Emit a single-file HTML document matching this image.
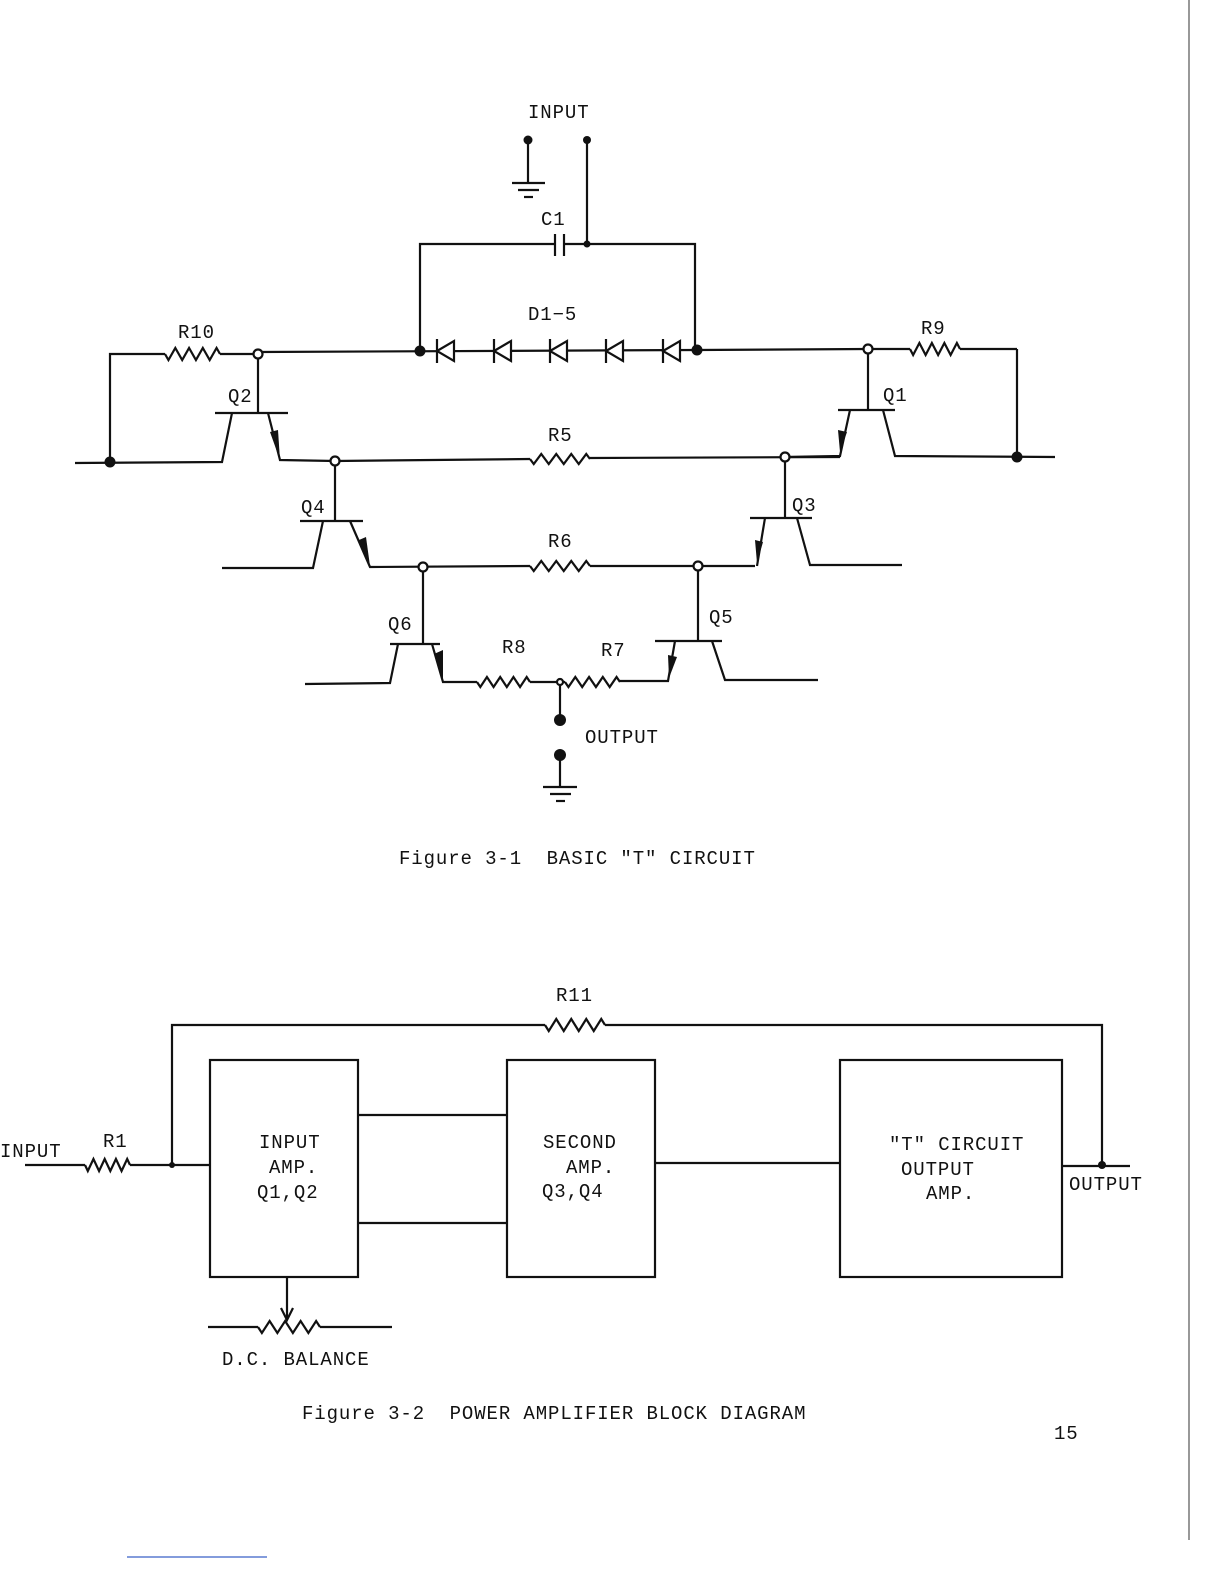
<!DOCTYPE html>
<html><head><meta charset="utf-8"><style>
html,body{margin:0;padding:0;background:#fff;}
svg{display:block;}
text{font-family:"Liberation Mono","DejaVu Sans Mono",monospace;font-size:19px;fill:#111;letter-spacing:0.9px;white-space:pre;}
</style></head><body>
<svg id="s" width="1224" height="1584" viewBox="0 0 1224 1584" xmlns="http://www.w3.org/2000/svg">
<g id="g" stroke="#111" stroke-width="2.2" fill="none">
<line x1="528" y1="140" x2="528" y2="182"/>
<line x1="512" y1="183" x2="545" y2="183"/><line x1="518" y1="190" x2="539" y2="190"/><line x1="524" y1="197" x2="533" y2="197"/>
<line x1="587" y1="140" x2="587" y2="244"/>
<polyline points="420,350 420,244 555,244"/><line x1="555" y1="234" x2="555" y2="256"/><line x1="564" y1="234" x2="564" y2="256"/>
<polyline points="564,244 695,244 695,350"/>
<line x1="258" y1="352" x2="697" y2="350"/>
<line x1="697" y1="350" x2="868" y2="349"/>
<polyline points="110,462 110,354 165,354"/><line x1="220" y1="354" x2="258" y2="354"/>
<line x1="258" y1="354" x2="258" y2="413"/>
<line x1="215" y1="413" x2="288" y2="413"/>
<polyline points="75,463 222,462 232,413"/>
<polyline points="268,413 280,460 335,461 530,459"/><line x1="590" y1="458" x2="840" y2="457"/>
<line x1="868" y1="349" x2="868" y2="410"/>
<line x1="838" y1="410" x2="895" y2="410"/>
<polyline points="850,410 840,456 785,457"/>
<polyline points="883,410 895,456 1055,457"/>
<line x1="960" y1="349" x2="1017" y2="349"/><line x1="1017" y1="349" x2="1017" y2="457"/>
<line x1="868" y1="349" x2="910" y2="349"/>
<line x1="335" y1="461" x2="335" y2="521"/>
<line x1="300" y1="521" x2="363" y2="521"/>
<polyline points="222,568 313,568 323,521"/>
<polyline points="350,521 370,567 530,566"/><line x1="590" y1="566" x2="755" y2="566"/>
<line x1="785" y1="457" x2="785" y2="518"/>
<line x1="750" y1="518" x2="812" y2="518"/>
<polyline points="765,518 757,566"/>
<polyline points="797,518 810,565 902,565"/>
<line x1="423" y1="567" x2="423" y2="644"/>
<line x1="390" y1="644" x2="440" y2="644"/>
<polyline points="305,684 390,683 398,644"/>
<polyline points="432,644 443,682 477,682"/>
<line x1="530" y1="682" x2="565" y2="682"/>
<polyline points="620,681 668,681 675,641"/>
<line x1="698" y1="566" x2="698" y2="641"/>
<line x1="655" y1="641" x2="722" y2="641"/>
<polyline points="712,641 725,680 818,680"/>
<line x1="560" y1="682" x2="560" y2="720"/>
<line x1="560" y1="755" x2="560" y2="786"/>
<line x1="543" y1="787" x2="577" y2="787"/><line x1="550" y1="794" x2="571" y2="794"/><line x1="556" y1="801" x2="565" y2="801"/>

<polyline points="172,1165 172,1025 545,1025"/><polyline points="605,1025 1102,1025 1102,1165"/>
<rect x="210" y="1060" width="148" height="217"/>
<rect x="507" y="1060" width="148" height="217"/>
<rect x="840" y="1060" width="222" height="217"/>
<line x1="358" y1="1115" x2="507" y2="1115"/><line x1="358" y1="1223" x2="507" y2="1223"/>
<line x1="655" y1="1163" x2="840" y2="1163"/>
<line x1="25" y1="1165" x2="85" y2="1165"/><line x1="130" y1="1165" x2="210" y2="1165"/>
<line x1="1062" y1="1166" x2="1130" y2="1166"/>
<line x1="287" y1="1277" x2="287" y2="1318"/>
<polyline points="281,1308 287,1320 293,1308"/>
<line x1="208" y1="1327" x2="258" y2="1327"/><line x1="320" y1="1327" x2="392" y2="1327"/>
<line x1="1189" y1="0" x2="1189" y2="1540" stroke-width="1.2" stroke="#555"/>
<line x1="127" y1="1557" x2="267" y2="1557" stroke="#5a7bd0" stroke-width="1.5"/>
</g>
<g fill="#111">
<circle cx="528" cy="140" r="4.5"/><circle cx="587" cy="140" r="4"/><circle cx="587" cy="244" r="3.5"/>
<circle cx="420" cy="351" r="5.5"/><circle cx="697" cy="350" r="5.5"/>
<circle cx="110" cy="462" r="5.5"/><circle cx="1017" cy="457" r="5.5"/>
<circle cx="560" cy="720" r="6"/><circle cx="560" cy="755" r="6"/>
<circle cx="172" cy="1165" r="3"/><circle cx="1102" cy="1165" r="4"/>
<polygon points="280,460 270,432 278,430"/>
<polygon points="840,452 838,430 847,432"/>
<polygon points="370,566 359,540 366,537"/>
<polygon points="757,563 755,540 763,542"/>
<polygon points="443,681 434,654 443,650"/>
<polygon points="669,678 668,655 677,657"/>
</g>
<g fill="#fff" stroke="#111" stroke-width="2.2">
<circle cx="258" cy="354" r="4.5"/><circle cx="868" cy="349" r="4.5"/>
<circle cx="335" cy="461" r="4.5"/><circle cx="785" cy="457" r="4.5"/>
<circle cx="423" cy="567" r="4.5"/><circle cx="698" cy="566" r="4.5"/>
<circle cx="560" cy="682" r="3"/>
</g>
<g font-size="19">
<text x="528" y="118">INPUT</text>
<text x="541" y="225">C1</text>
<text x="528" y="320">D1−5</text>
<text x="178" y="338">R10</text>
<text x="921" y="334">R9</text>
<text x="228" y="402">Q2</text>
<text x="883" y="401">Q1</text>
<text x="548" y="441">R5</text>
<text x="301" y="513">Q4</text>
<text x="792" y="511">Q3</text>
<text x="548" y="547">R6</text>
<text x="388" y="630">Q6</text>
<text x="709" y="623">Q5</text>
<text x="502" y="653">R8</text>
<text x="601" y="656">R7</text>
<text x="585" y="743">OUTPUT</text>
<text x="399" y="864" xml:space="preserve">Figure 3-1  BASIC "T" CIRCUIT</text>
<text x="556" y="1001">R11</text>
<text x="0" y="1157">INPUT</text>
<text x="103" y="1147">R1</text>
<text x="259" y="1148">INPUT</text>
<text x="269" y="1173">AMP.</text>
<text x="257" y="1198">Q1,Q2</text>
<text x="543" y="1148">SECOND</text>
<text x="566" y="1173">AMP.</text>
<text x="542" y="1197">Q3,Q4</text>
<text x="889" y="1150">"T" CIRCUIT</text>
<text x="901" y="1175">OUTPUT</text>
<text x="926" y="1199">AMP.</text>
<text x="1069" y="1190">OUTPUT</text>
<text x="222" y="1365">D.C. BALANCE</text>
<text x="302" y="1419" xml:space="preserve">Figure 3-2  POWER AMPLIFIER BLOCK DIAGRAM</text>
<text x="1054" y="1439">15</text>
</g>
</svg>
<script>
var g=document.getElementById('g'),NS="http://www.w3.org/2000/svg";
function res(x1,x2,y,n,a){var p=[],w=(x2-x1)/(n*2);p.push(x1+','+y);for(var i=0;i<n*2;i++){p.push((x1+w*(i+0.5))+','+(y+(i%2?-a:a)));}p.push(x2+','+y);
var e=document.createElementNS(NS,'polyline');e.setAttribute('points',p.join(' '));g.appendChild(e);}
res(165,220,354,4,6);res(910,960,349,4,6);res(530,590,459,4,5);res(530,590,566,4,5);
res(477,530,682,4,5);res(565,620,682,4,5);res(545,605,1025,4,6);res(85,130,1165,4,6);res(258,320,1327,4,6);
function diode(x,y){var e=document.createElementNS(NS,'path');
e.setAttribute('d','M'+x+' '+(y-12)+' V'+(y+12)+' M'+x+' '+y+' L'+(x+17)+' '+(y-10)+' V'+(y+10)+' Z');
e.setAttribute('fill','#fff');g.appendChild(e);}
[437,494,550,606,663].forEach(function(x){diode(x,351);});
</script>
</body></html>
